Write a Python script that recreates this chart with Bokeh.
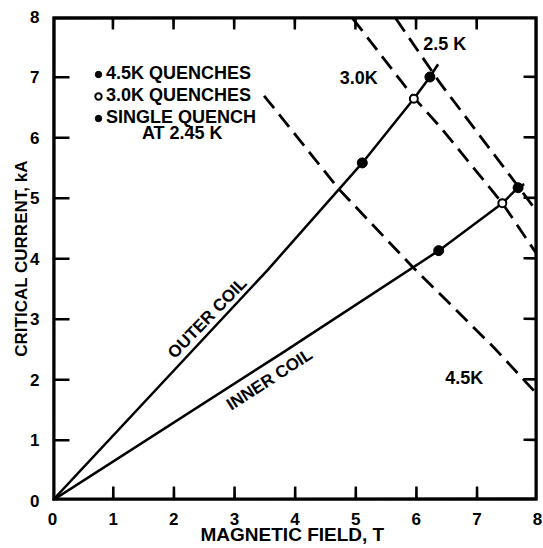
from bokeh.plotting import figure
from bokeh.models import FixedTicker, Label, Legend, Range1d
from bokeh.embed import file_html
from bokeh.resources import INLINE

# ---- data ----
x_ticks = [0, 1, 2, 3, 4, 5, 6, 7, 8]
y_ticks = [0, 1, 2, 3, 4, 5, 6, 7, 8]

outer_x = [0, 3.54, 5.11, 5.96, 6.225, 6.36]
outer_y = [0, 3.80, 5.58, 6.64, 7.00, 7.21]
inner_x = [0, 3.76, 6.37, 7.42, 7.68, 7.78]
inner_y = [0, 2.42, 4.13, 4.915, 5.17, 5.23]

q45_x = [5.11, 6.37]
q45_y = [5.58, 4.13]
q30_x = [5.96, 7.42]
q30_y = [6.64, 4.915]
q245_x = [6.225, 7.68]
q245_y = [7.00, 5.17]

k25_x = [5.66, 6.40, 7.69, 7.95]
k25_y = [7.97, 6.89, 5.18, 4.83]
k30_x = [4.95, 5.96, 6.40, 7.42, 7.97]
k30_y = [7.97, 6.66, 6.17, 4.915, 4.10]
k45_x = [3.49, 4.72, 5.94, 7.28, 8.0]
k45_y = [6.69, 5.15, 3.86, 2.53, 1.75]

legend_labels = ["4.5K QUENCHES", "3.0K QUENCHES", "SINGLE QUENCH"]
x_title = "MAGNETIC  FIELD, T"
y_title = "CRITICAL CURRENT, kA"

FONT = "Liberation Sans"

x0, x1 = x_ticks[0], x_ticks[-1]
y0, y1 = y_ticks[0], y_ticks[-1]

p = figure(width=543, height=548, x_range=Range1d(x0, x1), y_range=Range1d(y0, y1),
           output_backend="svg", toolbar_location=None,
           min_border_left=52, min_border_right=6, min_border_top=16, min_border_bottom=48)
p.xgrid.visible = False
p.ygrid.visible = False
p.outline_line_color = None

for ax, ticks in [(p.below[0], x_ticks), (p.left[0], y_ticks)]:
    ax.ticker = FixedTicker(ticks=ticks)
    ax.major_tick_in = 0
    ax.major_tick_out = 0
    ax.minor_tick_line_color = None
    ax.major_tick_line_color = None
    ax.axis_line_color = None
    ax.major_label_text_font = FONT
    ax.major_label_text_font_style = "bold"
    ax.major_label_text_font_size = "17px"
    ax.major_label_text_color = "black"
    ax.axis_label_text_font = FONT
    ax.axis_label_text_font_style = "bold"
    ax.axis_label_text_color = "black"

xa = p.below[0]
xa.major_label_standoff = 12
xa.axis_label = x_title
xa.axis_label_text_font_size = "19px"
xa.axis_label_standoff = -4

ya = p.left[0]
ya.major_label_standoff = 13
ya.axis_label = y_title
ya.axis_label_text_font_size = "17px"
ya.axis_label_standoff = -4

E = 0.003  # tiny skew so the strokes are not exactly axis-aligned (style)

# frame as one closed polyline (outer half of the stroke falls outside the frame)
p.line([x0, x1, x1 - E, x0 + E, x0], [y0, y0 + E, y1, y1 - E, y0], line_color="black",
       line_width=6, line_join="bevel")

# inward tick marks, drawn as one zig-zag path along the frame
TB, TT, TL, TR = 0.23, 0.215, 0.28, 0.23   # tick lengths (style)
inner_xt = x_ticks[1:-1]
inner_yt = y_ticks[1:-1]
tx, ty = [x0], [y0]
for t in inner_xt:
    tx += [t, t + E, t + 2 * E]
    ty += [y0, y0 + TB, y0]
tx.append(x1); ty.append(y0)
for t in inner_yt:
    tx += [x1, x1 - TR, x1]
    ty += [t, t + E, t + 2 * E]
tx.append(x1); ty.append(y1)
for t in reversed(inner_xt):
    tx += [t, t - E, t - 2 * E]
    ty += [y1, y1 - TT, y1]
tx.append(x0); ty.append(y1)
for t in reversed(inner_yt):
    tx += [x0, x0 + TL, x0]
    ty += [t, t - E, t - 2 * E]
tx.append(x0); ty.append(y0)
p.line(tx, ty, line_color="black", line_width=2.5, line_join="bevel")

# coil load lines
p.line(outer_x, outer_y, line_color="black", line_width=2.5)
p.line(inner_x, inner_y, line_color="black", line_width=2.5)

# critical current curves
for xs, ys in [(k25_x, k25_y), (k30_x, k30_y), (k45_x, k45_y)]:
    p.line(xs, ys, line_color="black", line_width=2.8, line_dash="16 8")

r45 = p.scatter(q45_x, q45_y, size=10, color="black")
r30 = p.scatter(q30_x, q30_y, size=8, fill_color="white", line_color="black", line_width=2)
r245 = p.scatter(q245_x, q245_y, size=10, color="black")

legend = Legend(items=[(legend_labels[0], [r45]), (legend_labels[1], [r30]), (legend_labels[2], [r245])],
                location=(38, 372), border_line_color=None, background_fill_alpha=0,
                padding=0, margin=0, spacing=1, glyph_width=16, glyph_height=20,
                label_height=20, label_standoff=0,
                label_text_font=FONT, label_text_font_style="bold",
                label_text_font_size="18px", label_text_color="black")
p.add_layout(legend)


def lab(x, y, text, size="18px", angle=0.0):
    p.add_layout(Label(x=x, y=y, text=text, text_font=FONT, text_font_style="bold",
                       text_font_size=size, text_color="black", text_align="center",
                       text_baseline="middle", angle=angle))


lab(2.14, 6.07, "AT 2.45 K")
lab(6.47, 7.55, "2.5 K")
lab(5.05, 6.99, "3.0K")
lab(6.79, 2.025, "4.5K")
lab(2.553, 3.017, "OUTER COIL", "17px", 0.80)
lab(3.58, 2.0, "INNER COIL", "17px", 0.574)

open("out.html", "w").write(file_html(p, INLINE))
